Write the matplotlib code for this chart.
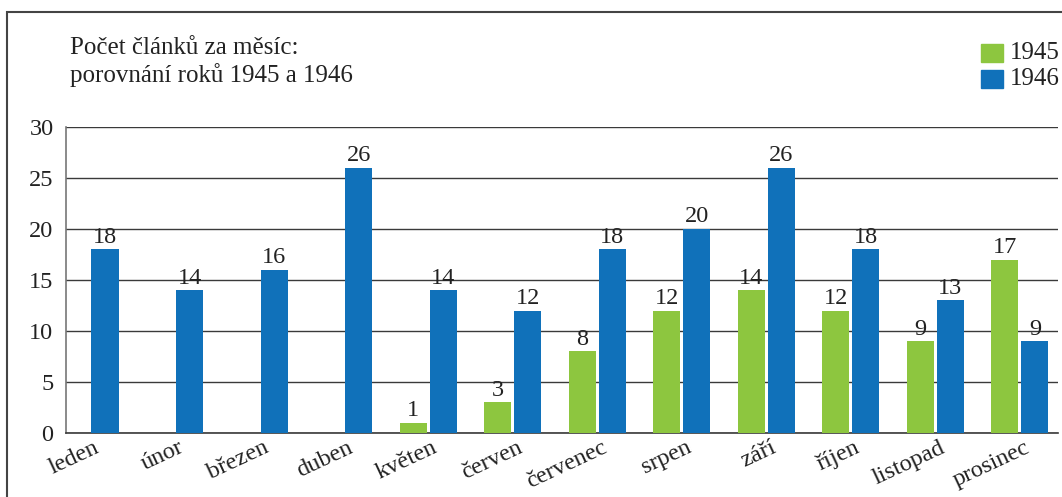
import numpy as np
import matplotlib.pyplot as plt
from matplotlib.patches import Rectangle
from matplotlib.transforms import ScaledTranslation

plt.rcParams['font.family'] = ['Liberation Serif', 'DejaVu Serif']

months = ['leden', 'únor', 'březen', 'duben', 'květen', 'červen',
          'červenec', 'srpen', 'září', 'říjen', 'listopad', 'prosinec']
years = ['1945', '1946']
# no articles recorded for the first four months of 1945
counts_1945 = [None, None, None, None, 1, 3, 8, 12, 14, 12, 9, 17]
counts_1946 = [18, 14, 16, 26, 14, 12, 18, 20, 26, 18, 13, 9]
yticks = [0, 5, 10, 15, 20, 25, 30]
title_lines = ['Počet článků za měsíc:', 'porovnání roků 1945 a 1946']

GREEN = '#8dc63f'
BLUE = '#1071ba'
GRID = '#3a3a3a'
TEXT = '#222222'
FS = 17.5

fig = plt.figure(figsize=(10.62, 4.97), dpi=100)
ax = fig.add_axes([0.0621, 0.1288, 0.9341, 0.6157])

x = np.arange(len(months))
width = 0.32
offset = 0.178

series = [(counts_1945, -offset, GREEN), (counts_1946, offset, BLUE)]
for values, dx, color in series:
    for xi, v in zip(x, values):
        if v is None:
            continue
        ax.bar(xi + dx, v, width, color=color, zorder=3)
        ax.text(xi + dx, v + 0.15, str(v), ha='center', va='bottom',
                fontsize=FS, color=TEXT, zorder=4)

ax.set_xlim(-0.284, 11.45)
ax.set_ylim(0, 30)
ax.set_yticks(yticks)
ax.set_yticklabels([str(t) for t in yticks], fontsize=FS, color=TEXT)
ax.yaxis.grid(True, color=GRID, linewidth=1.0, zorder=0)
ax.set_axisbelow(True)
ax.tick_params(axis='y', length=0, pad=9)
ax.tick_params(axis='x', length=0, pad=3)

ax.set_xticks(x)
ax.set_xticklabels(months, rotation=25, ha='right', rotation_mode='anchor',
                   fontsize=FS, color=TEXT)
# nudge the slanted month names a little to the right
shift = ScaledTranslation(4 / 100, 0, fig.dpi_scale_trans)
for lbl in ax.get_xticklabels():
    lbl.set_transform(lbl.get_transform() + shift)

for side in ['top', 'right']:
    ax.spines[side].set_visible(False)
ax.spines['left'].set_color('#777777')
ax.spines['left'].set_linewidth(1.2)
ax.spines['bottom'].set_color(GRID)
ax.spines['bottom'].set_linewidth(1.2)

# outer frame running off the right and bottom edges
fig.patches.append(Rectangle((7 / 1062, -0.1), 1.2, 1 - 12 / 497 + 0.1,
                             transform=fig.transFigure, fill=False,
                             edgecolor='#444444', linewidth=1.5))

for i, line in enumerate(title_lines):
    fig.text(70 / 1062, 1 - (48 + 27 * i) / 497, line, ha='left', va='center',
             fontsize=FS + 0.5, color=TEXT)

# legend
for i, (label, color) in enumerate(zip(years, [GREEN, BLUE])):
    y0 = 1 - (44 + 26 * i + 18) / 497
    fig.patches.append(Rectangle((981 / 1062, y0), 22 / 1062, 18 / 497,
                                 transform=fig.transFigure, color=color))
    fig.text(1010 / 1062, y0 + 9 / 497, label, ha='left', va='center',
             fontsize=FS + 0.5, color=TEXT)

fig.savefig('out.png', dpi=100)
